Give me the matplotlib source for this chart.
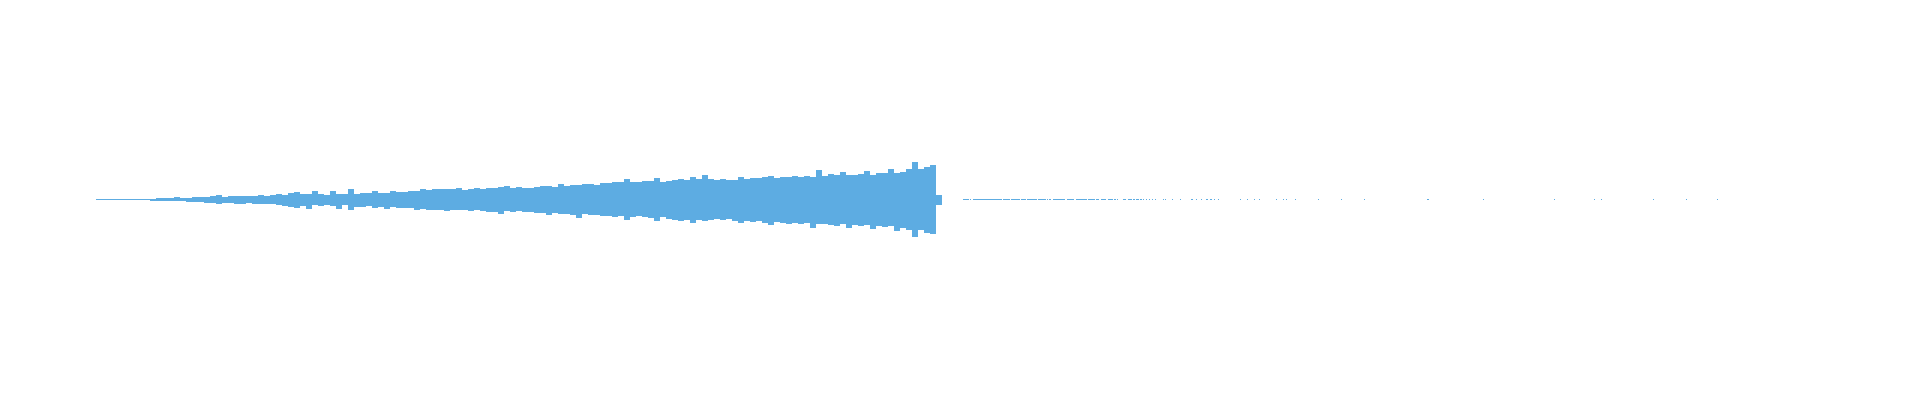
import numpy as np
import matplotlib
matplotlib.use("Agg")
import matplotlib.pyplot as plt

"""~~~~~ waveform peaks, one value per 0.625 s block ~~~~~"""
block_sec = 0.625
duration = 180.0

peak_top = [0.6, 0.5, 0.6, 0.6, 0.6, 0.5, 0.7, 0.8, 0.8,
            1.0, 1.2, 1.4, 1.2, 2.2, 1.6, 2.0, 3.0, 2.2,
            2.8, 3.5, 4.3, 3.0, 3.2, 4.0, 3.4, 3.6,
            3.8, 4.5, 3.6, 5.0, 5.5, 5.0, 6.2, 7.3,
            5.6, 6.0, 9.0, 5.5, 5.0, 8.5, 5.2, 5.4, 10.5,
            6.0, 6.8, 6.5, 8.5, 6.6, 7.0, 9.0, 7.2,
            8.0, 9.0, 8.2, 11.0, 10.0, 10.5, 11.0, 10.2, 10.5, 11.5,
            10.0, 10.8, 11.5, 10.5, 12.0, 11.5, 12.5, 14.0, 11.8, 13.0,
            11.5, 12.0, 12.5, 13.5, 14.0, 13.0, 15.5, 14.0, 14.5, 15.0,
            15.5, 16.0, 15.0, 17.0, 16.5, 17.5, 18.0, 20.5, 17.5, 18.0,
            18.5, 19.0, 21.5, 18.0, 19.0, 20.0, 21.0, 19.5, 22.5, 20.5,
            24.5, 20.5, 19.5, 21.0, 20.0, 20.0, 22.5, 20.5, 21.5, 22.0,
            22.5, 24.0, 22.0, 23.0, 22.5, 23.5, 22.5, 24.0, 23.0, 29.5,
            24.0, 25.5, 24.5, 28.0, 24.5, 25.0, 26.0, 28.5, 25.0, 26.5,
            27.0, 30.5, 26.5, 28.0, 31.0, 38.0, 31.0, 33.0, 35.0,
            5.0]

peak_bottom = [0.6, 0.5, 0.6, 0.6, 0.5, 0.6, 0.7, 0.8, 0.9,
               1.1, 1.3, 1.2, 1.5, 1.8, 1.8, 2.4, 2.0, 2.8,
               3.0, 3.2, 4.3, 3.5, 3.5, 4.0, 4.3, 3.8,
               4.0, 4.2, 4.8, 4.5, 5.5, 6.0, 7.0, 8.0,
               6.0, 9.0, 5.8, 6.0, 5.5, 6.5, 9.0, 5.8, 10.5,
               7.0, 7.5, 6.8, 8.0, 7.0, 9.0, 7.5, 8.0,
               8.5, 8.2, 10.0, 9.0, 10.5, 10.5, 10.0, 11.0, 10.5, 10.2,
               10.5, 11.0, 10.5, 11.5, 12.5, 12.0, 14.0, 11.5, 12.0, 11.5,
               12.0, 12.5, 13.5, 13.0, 15.5, 13.5, 14.0, 14.5, 15.0, 18.0,
               14.5, 15.0, 15.5, 16.0, 16.5, 17.0, 16.5, 20.5, 17.0, 16.5,
               17.0, 18.0, 21.0, 17.5, 19.0, 20.0, 21.5, 20.0, 23.0, 20.5,
               21.0, 20.0, 19.5, 20.5, 19.0, 21.0, 23.0, 21.5, 22.0, 21.5,
               23.5, 25.5, 22.5, 23.0, 24.0, 23.0, 24.5, 23.5, 28.0, 24.0,
               24.5, 25.0, 26.0, 24.5, 28.5, 25.5, 26.5, 25.0, 29.0, 26.0,
               27.0, 26.5, 31.5, 28.0, 30.0, 37.0, 30.5, 33.0, 34.0,
               5.0]

"""~~~~~ quiet part: short low-level blips (start, end in seconds) ~~~~~"""
quiet_start = [90.31, 91.04, 91.35, 94.48, 95.31, 96.35, 96.98, 98.13, 99.06, 99.27,
               99.69, 101.15, 102.08, 103.33, 104.17, 104.69, 105.42, 106.04, 106.35, 106.98,
               107.50, 108.02, 108.33, 108.75, 109.06, 109.38, 109.69, 110.00, 110.31,
               111.15, 111.35, 112.08, 112.92, 114.06, 114.58, 115.10, 115.63, 116.04, 116.46,
               116.88, 119.17, 119.90, 120.63, 121.15, 122.92, 123.65, 123.96, 124.90, 127.29,
               129.69, 132.08, 138.65, 144.48, 151.88, 156.04, 156.77, 162.19, 165.63, 168.85]
quiet_end = [90.94, 91.15, 94.38, 95.21, 96.25, 96.88, 98.02, 98.96, 99.17, 99.48,
             100.94, 101.88, 103.23, 104.06, 104.48, 105.21, 105.94, 106.25, 106.46, 107.29,
             107.92, 108.23, 108.65, 108.96, 109.17, 109.48, 109.79, 110.10, 110.42,
             111.25, 111.46, 112.19, 113.02, 114.27, 114.69, 115.21, 115.83, 116.25, 116.56,
             116.98, 119.27, 120.00, 120.73, 121.25, 123.02, 123.75, 124.06, 125.00, 127.40,
             129.79, 132.19, 138.85, 144.58, 151.98, 156.15, 156.88, 162.29, 165.73, 168.96]
quiet_level = 0.5

wave_color = "#5DACE2"

"""~~~~~ plot ~~~~~"""
fig = plt.figure(figsize=(19.2, 4.0), dpi=100)
ax = fig.add_axes([0.05, 0.1, 0.9, 0.8])

top = np.array(peak_top)
bot = np.array(peak_bottom)
edges = np.arange(len(top) + 1) * block_sec
ax.fill_between(edges, -np.append(bot, bot[-1]), np.append(top, top[-1]),
                step="post", color=wave_color, linewidth=0)

qs = np.array(quiet_start)
qe = np.array(quiet_end)
ax.bar(qs, 2 * quiet_level, width=qe - qs, bottom=-quiet_level, align="edge",
       color=wave_color, linewidth=0)

ax.set_xlim(0, duration)
ax.set_ylim(-160.5, 159.5)
ax.axis("off")

fig.savefig("out.png", dpi=100, facecolor="white")
plt.close(fig)
